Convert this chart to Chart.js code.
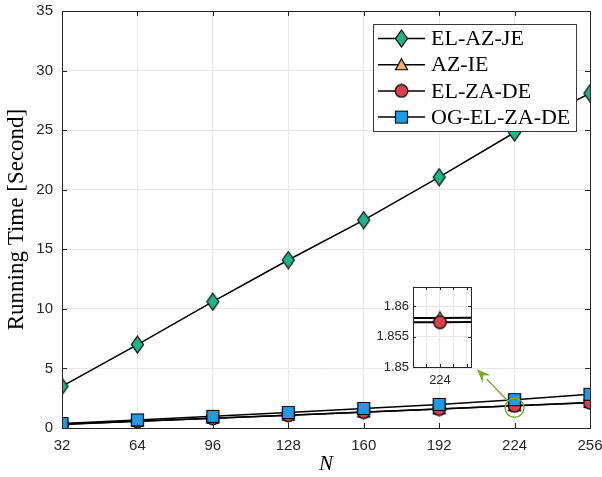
<!DOCTYPE html>
<html>
<head>
<meta charset="utf-8">
<script src="https://cdn.jsdelivr.net/npm/chart.js@4.4.1/dist/chart.umd.min.js"></script>
<style>
html, body { margin: 0; padding: 0; background: #fff; }
#wrap { position: relative; width: 602px; height: 477px; }
#wrap canvas { position: absolute; left: 0; top: 0; }
</style>
</head>
<body>
<div id="wrap">
  <canvas id="mainChart" width="602" height="477"></canvas>
  <canvas id="insetChart" width="602" height="477"></canvas>
</div>
<script>
// data
const nValues = [32, 64, 96, 128, 160, 192, 224, 256];
const seriesNames = ['EL-AZ-JE', 'AZ-IE', 'EL-ZA-DE', 'OG-EL-ZA-DE'];
const elAzJe   = [3.5, 7.0, 10.6, 14.1, 17.45, 21.05, 24.8, 28.1];
const azIe     = [0.31, 0.57, 0.82, 1.08, 1.34, 1.6, 1.8581, 2.13];
const elZaDe   = [0.30, 0.56, 0.81, 1.07, 1.33, 1.59, 1.8574, 2.12];
const ogElZaDe = [0.38, 0.68, 0.98, 1.30, 1.64, 1.98, 2.38, 2.83];
const insetYTicks = [1.85, 1.855, 1.86];
const zoomAt = 224;

const AX = '#262626';
const GRID = '#E6E6E6';
const SANS = "'Liberation Sans', Arial, sans-serif";
const SERIF = "'Liberation Serif', 'Times New Roman', serif";

// linear scale without the int16 pixel clamp, so the zoomed inset keeps true slopes
class FreeLinear extends Chart.LinearScale {
    getPixelForDecimal(decimal){
        if (this._reversePixels) decimal = 1 - decimal;
        return this._startPixel + decimal * this._length;
    }
}
FreeLinear.id = 'freeLinear';
FreeLinear.defaults = Chart.LinearScale.defaults;
Chart.register(FreeLinear);

function marker(shape, fill){
    const c = document.createElement('canvas');
    const w = 15, h = shape === 'd' ? 19 : 15;
    c.width = w; c.height = h;
    const g = c.getContext('2d');
    g.fillStyle = fill; g.strokeStyle = '#000'; g.lineWidth = 1.2;
    g.beginPath();
    if (shape === 'd') { g.moveTo(w/2, 1); g.lineTo(w-1.5, h/2); g.lineTo(w/2, h-1); g.lineTo(1.5, h/2); g.closePath(); }
    else if (shape === 't') { g.moveTo(w/2, 1.5); g.lineTo(w-1.5, h-2.5); g.lineTo(1.5, h-2.5); g.closePath(); }
    else if (shape === 'c') { g.arc(w/2, h/2, w/2-1.2, 0, Math.PI*2); }
    else { g.rect(1.5, 1.5, w-3, h-3); }
    g.fill(); g.stroke();
    return c;
}
const markers = [marker('d', '#1FB386'), marker('t', '#F5B066'), marker('c', '#D8404E'), marker('s', '#1E9BE2')];
const seriesData = [elAzJe, azIe, elZaDe, ogElZaDe];

function makeSets(lw, which){
    return which.map(i => ({
        label: seriesNames[i],
        data: nValues.map((n, k) => ({ x: n, y: seriesData[i][k] })),
        borderColor: '#000',
        borderWidth: lw,
        pointStyle: markers[i],
        pointRadius: 7,
        pointHoverRadius: 7,
        order: 4 - i,
        tension: 0
    }));
}

// inward ticks + full box, MATLAB style
function boxTicks(chart, len){
    const { ctx, chartArea: a, scales } = chart;
    ctx.save();
    ctx.strokeStyle = AX; ctx.lineWidth = 1;
    ctx.beginPath();
    scales.x.ticks.forEach(t => {
        const px = Math.round(scales.x.getPixelForValue(t.value)) + 0.5;
        ctx.moveTo(px, a.bottom); ctx.lineTo(px, a.bottom - len);
        ctx.moveTo(px, a.top); ctx.lineTo(px, a.top + len);
    });
    scales.y.ticks.forEach(t => {
        const py = Math.round(scales.y.getPixelForValue(t.value)) + 0.5;
        ctx.moveTo(a.left, py); ctx.lineTo(a.left + len, py);
        ctx.moveTo(a.right, py); ctx.lineTo(a.right - len, py);
    });
    ctx.stroke();
    ctx.strokeRect(Math.round(a.left) + 0.5, Math.round(a.top) + 0.5, Math.round(a.right - a.left), Math.round(a.bottom - a.top));
    ctx.restore();
}

const mainPlugin = {
    id: 'mainExtras',
    afterDraw(chart){
        const { ctx, chartArea: a, scales } = chart;
        boxTicks(chart, 5);

        // zoom circle and arrow
        const cx = scales.x.getPixelForValue(zoomAt);
        const cy = scales.y.getPixelForValue(1.7);
        const r = 9.5;
        const tx = scales.x.getPixelForValue(208), ty = scales.y.getPixelForValue(4.95);
        const ang = Math.atan2(ty - cy, tx - cx);
        const sx = cx + r * Math.cos(ang), sy = cy + r * Math.sin(ang);
        ctx.save();
        ctx.strokeStyle = '#77AC30'; ctx.fillStyle = '#77AC30'; ctx.lineWidth = 1.4;
        ctx.beginPath(); ctx.arc(cx, cy, r, 0, Math.PI*2); ctx.stroke();
        const hl = 14, hw = 5.5;
        const bx = tx - hl * Math.cos(ang), by = ty - hl * Math.sin(ang);
        ctx.beginPath(); ctx.moveTo(sx, sy); ctx.lineTo(bx, by); ctx.stroke();
        ctx.beginPath();
        ctx.moveTo(tx, ty);
        ctx.lineTo(bx + hw * Math.sin(ang), by - hw * Math.cos(ang));
        ctx.lineTo(bx + 0.35*hl*Math.cos(ang), by + 0.35*hl*Math.sin(ang));
        ctx.lineTo(bx - hw * Math.sin(ang), by + hw * Math.cos(ang));
        ctx.closePath(); ctx.fill();
        ctx.restore();

        // legend box
        const lx = a.right - 217, ly = a.top + 13, lw = 203, lh = 107, row = 26.2;
        ctx.save();
        ctx.fillStyle = '#fff'; ctx.fillRect(lx, ly, lw, lh);
        ctx.strokeStyle = '#3a3a3a'; ctx.lineWidth = 1;
        ctx.strokeRect(Math.round(lx) + 0.5, Math.round(ly) + 0.5, lw, lh);
        ctx.font = '22px ' + SERIF; ctx.fillStyle = '#000'; ctx.textBaseline = 'middle';
        seriesNames.forEach((name, i) => {
            const y = ly + 14.5 + i * row;
            ctx.strokeStyle = '#000'; ctx.lineWidth = 1.5;
            ctx.beginPath(); ctx.moveTo(lx + 5, y); ctx.lineTo(lx + 52, y); ctx.stroke();
            const m = markers[i];
            ctx.drawImage(m, lx + 28.5 - m.width/2, y - m.height/2);
            ctx.fillText(name, lx + 58, y + 1);
        });
        ctx.restore();
    }
};

new Chart(document.getElementById('mainChart'), {
    type: 'line',
    data: { datasets: makeSets(1.5, [0, 1, 2, 3]) },
    options: {
        responsive: false,
        animation: false,
        events: [],
        layout: { padding: 0 },
        plugins: { legend: { display: false }, tooltip: { enabled: false } },
        scales: {
            x: {
                type: 'linear', min: 32, max: 256,
                ticks: { stepSize: 32, color: AX, font: { family: SANS, size: 15 }, padding: 9, maxRotation: 0 },
                grid: { color: GRID, drawTicks: false },
                border: { color: AX },
                title: { display: true, text: 'N', color: '#000', font: { family: SERIF, size: 21, style: 'italic' }, padding: 0 },
                afterFit(s){ s.height = 49; s.paddingLeft = 0; s.paddingRight = 12; }
            },
            y: {
                min: 0, max: 35,
                ticks: { stepSize: 5, color: AX, font: { family: SANS, size: 15 }, padding: 9 },
                grid: { color: GRID, drawTicks: false },
                border: { color: AX },
                title: { display: true, text: 'Running Time [Second]', color: '#000', font: { family: SERIF, size: 23 }, padding: 3 },
                afterFit(s){ s.width = 62; s.paddingTop = 11; s.paddingBottom = 0; }
            }
        }
    },
    plugins: [mainPlugin]
});

// inset: zoom on N = 224
const insetPlugin = {
    id: 'insetExtras',
    beforeDraw(chart){
        const { ctx, chartArea: a } = chart;
        ctx.save(); ctx.fillStyle = '#fff'; ctx.fillRect(a.left, a.top, a.right - a.left, a.bottom - a.top); ctx.restore();
    },
    afterDraw(chart){ boxTicks(chart, 3); }
};

new Chart(document.getElementById('insetChart'), {
    type: 'line',
    data: { datasets: makeSets(2, [1, 2]) },
    options: {
        responsive: false,
        animation: false,
        events: [],
        layout: { padding: { top: 287, right: 131, left: 360, bottom: 0 } },
        plugins: { legend: { display: false }, tooltip: { enabled: false } },
        scales: {
            x: {
                type: 'freeLinear', min: zoomAt - 0.002, max: zoomAt + 0.0023,
                afterBuildTicks(s){ s.ticks = [-2, -1, 0, 1, 2].map(k => ({ value: zoomAt + k * 0.001 })); },
                ticks: { color: AX, font: { family: SANS, size: 13 }, padding: 6, maxRotation: 0, autoSkip: false,
                         callback: v => Math.abs(v - zoomAt) < 1e-7 ? String(zoomAt) : '' },
                grid: { color: GRID, drawTicks: false },
                border: { color: AX },
                afterFit(s){ s.height = 110; }
            },
            y: {
                min: 1.85, max: 1.8632,
                afterBuildTicks(s){ s.ticks = insetYTicks.map(v => ({ value: v })); },
                ticks: { color: AX, font: { family: SANS, size: 13 }, padding: 4,
                         callback: v => String(v) },
                grid: { color: GRID, drawTicks: false },
                border: { color: AX },
                afterFit(s){ s.width = 53; }
            }
        }
    },
    plugins: [insetPlugin]
});
</script>
</body>
</html>
